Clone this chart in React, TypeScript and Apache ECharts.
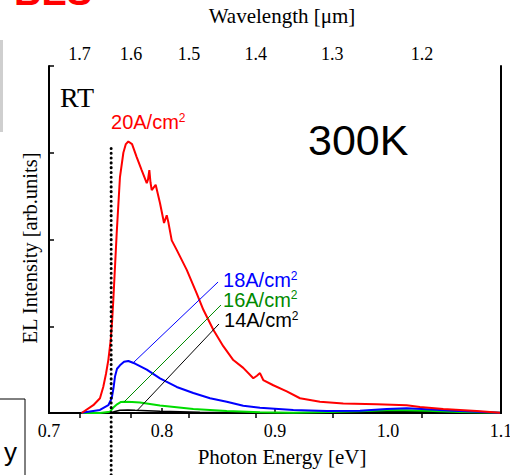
import { useEffect, useRef } from "react";
import * as echarts from "echarts";

// Photon energy (eV) / intensity (arb. units) pairs for each drive current
const spectrum20: number[][] = [
  [0.7289, 0], [0.7392, 0.09], [0.7451, 0.17], [0.748, 0.3], [0.7504, 0.45],
  [0.7525, 0.61], [0.7546, 0.84], [0.7558, 1.05], [0.7569, 1.3], [0.7599, 2.07],
  [0.7628, 2.72], [0.7658, 3.0], [0.768, 3.1], [0.7702, 3.13], [0.7735, 3.1],
  [0.7776, 2.95], [0.782, 2.8], [0.7865, 2.65], [0.7876, 2.69], [0.7888, 2.8],
  [0.7898, 2.66], [0.7909, 2.57], [0.7944, 2.63], [0.7982, 2.42], [0.8018, 2.19],
  [0.8042, 2.28], [0.8056, 2.2], [0.8086, 1.99], [0.813, 1.88], [0.8219, 1.65],
  [0.8307, 1.38], [0.8366, 1.19], [0.8454, 0.96], [0.8542, 0.77], [0.8631, 0.61],
  [0.8719, 0.52], [0.8808, 0.4], [0.884, 0.43], [0.8867, 0.46], [0.8896, 0.38],
  [0.8985, 0.32], [0.9104, 0.25], [0.9221, 0.17], [0.9398, 0.13], [0.9604, 0.11],
  [0.99, 0.1], [1.0165, 0.09], [1.0283, 0.07], [1.0489, 0.046], [1.0785, 0.023],
  [1.0991, 0.003],
];

const spectrum18: number[][] = [
  [0.7289, 0.003], [0.7451, 0.035], [0.7525, 0.09], [0.7555, 0.17], [0.7571, 0.29],
  [0.7584, 0.42], [0.7602, 0.51], [0.7628, 0.55], [0.7664, 0.59], [0.7702, 0.6],
  [0.7761, 0.57], [0.7865, 0.5], [0.7982, 0.4], [0.813, 0.3], [0.8277, 0.23],
  [0.8425, 0.17], [0.8573, 0.13], [0.8719, 0.084], [0.8867, 0.061], [0.9162, 0.035],
  [0.9458, 0.023], [0.9752, 0.027], [0.9988, 0.046], [1.0165, 0.054], [1.0342, 0.043],
  [1.0578, 0.027], [1.0991, 0.003],
];

const spectrum16: number[][] = [
  [0.7289, 0], [0.7451, 0], [0.754, 0.015], [0.7575, 0.07], [0.7602, 0.1],
  [0.7637, 0.127], [0.7673, 0.13], [0.7735, 0.127], [0.7805, 0.12], [0.7982, 0.086],
  [0.8277, 0.046], [0.8573, 0.023], [0.8867, 0.008], [0.9162, 0.003], [0.9487, 0.012],
  [0.9752, 0.02], [1.0047, 0.035], [1.0342, 0.027], [1.0637, 0.012], [1.0991, 0.003],
];

const spectrum14: number[][] = [
  [0.7289, 0], [0.754, 0], [0.7584, 0.017], [0.7628, 0.031], [0.7699, 0.035],
  [0.7761, 0.031], [0.7982, 0.02], [0.8336, 0.008], [0.8867, 0.002], [0.9487, 0.006],
  [1.0018, 0.017], [1.0372, 0.015], [1.0726, 0.006], [1.0991, 0],
];

const currents = ["20", "18", "16", "14"];

// Wavelength ticks on the top axis (μm), placed at E = hc / λ
const wavelengthTicks = [1.7, 1.6, 1.5, 1.4, 1.3, 1.2];
const HC_EV_UM = 1.236;

// Room-temperature band-edge marker (eV)
const edgeEnergy = 0.755;

const SERIF = "'Liberation Serif', 'Times New Roman', serif";
const SANS = "'Liberation Sans', Arial, sans-serif";

// Label anchors and leader lines, in data coordinates [eV, arb.units]
const labelLayout = [
  { color: "#ff0000", at: [0.7549, 3.354], from: null, to: null },
  { color: "#0000ff", at: [0.854, 1.533], from: [0.8496, 1.51], to: [0.7743, 0.576] },
  { color: "#008a00", at: [0.854, 1.303], from: [0.8522, 1.245], to: [0.7664, 0.127] },
  { color: "#000000", at: [0.8549, 1.072], from: [0.8504, 1.026], to: [0.7779, 0.027] },
];

export default function App() {
  const ref = useRef<HTMLDivElement>(null);

  useEffect(() => {
    if (!ref.current) return;
    const chart = echarts.init(ref.current, null, { renderer: "svg" });

    const axisLine = { show: true, lineStyle: { color: "#000", width: 2 } };
    const tick = { show: true, inside: true, length: 5, lineStyle: { color: "#000", width: 1.5 } };
    const topTickValues = wavelengthTicks.map((l) => HC_EV_UM / l);

    chart.setOption({
      animation: false,
      backgroundColor: "#ffffff",
      grid: { left: 49, right: 9, top: 66, bottom: 62, containLabel: false, outerBoundsMode: "none" },
      xAxis: [
        {
          type: "value",
          position: "bottom",
          min: 0.7,
          max: 1.1,
          interval: 0.1,
          axisLine,
          axisTick: tick,
          splitLine: { show: false },
          axisLabel: {
            margin: 9,
            color: "#000",
            fontFamily: SERIF,
            fontSize: 18,
            formatter: (v: number) => v.toFixed(1),
          },
          name: "Photon Energy [eV]",
          nameLocation: "middle",
          nameGap: 33,
          nameTextStyle: { color: "#000", fontFamily: SERIF, fontSize: 21, padding: [0, 0, 0, 14] },
        },
        {
          type: "value",
          position: "top",
          min: 0.7,
          max: 1.1,
          axisLine,
          axisTick: { ...tick, customValues: topTickValues },
          splitLine: { show: false },
          axisLabel: {
            margin: 3,
            color: "#000",
            fontFamily: SERIF,
            fontSize: 18,
            customValues: topTickValues,
            formatter: (v: number) => (HC_EV_UM / v).toFixed(1),
          },
          name: "Wavelength [μm]",
          nameLocation: "middle",
          nameGap: 40,
          nameTextStyle: { color: "#000", fontFamily: SERIF, fontSize: 21, padding: [0, 0, 0, 14] },
        },
      ],
      yAxis: [
        {
          type: "value",
          position: "left",
          min: 0,
          max: 4,
          interval: 1,
          axisLine,
          axisTick: tick,
          axisLabel: { show: false },
          splitLine: { show: false },
          name: "EL Intensity [arb.units]",
          nameLocation: "middle",
          nameGap: 9,
          nameTextStyle: { color: "#000", fontFamily: SERIF, fontSize: 20.5, padding: [0, 17, 0, 0] },
        },
        {
          type: "value",
          position: "right",
          min: 0,
          max: 4,
          axisLine,
          axisTick: { show: false },
          axisLabel: { show: false },
          splitLine: { show: false },
        },
      ],
      series: [
        { name: currents[3], data: spectrum14, color: "#000000", width: 1.5 },
        { name: currents[2], data: spectrum16, color: "#00dd00", width: 2 },
        { name: currents[1], data: spectrum18, color: "#0000ff", width: 2 },
        { name: currents[0], data: spectrum20, color: "#ff0000", width: 2 },
      ].map((s) => ({
        type: "line",
        name: s.name,
        data: s.data,
        showSymbol: false,
        symbol: "none",
        lineStyle: { color: s.color, width: s.width },
        itemStyle: { color: s.color },
      })),
    });

    const px = (p: number[]) => chart.convertToPixel({ seriesIndex: 0 }, p) as number[];

    const graphic: any[] = [];

    // Dotted band-edge marker, running past the frame to the page edge
    const edgeTop = px([edgeEnergy, 3.05]);
    graphic.push({
      type: "line",
      z: 50,
      shape: { x1: edgeTop[0], y1: edgeTop[1], x2: edgeTop[0], y2: 480 },
      style: { stroke: "#000", lineWidth: 3, lineDash: [0.1, 4.7], lineCap: "round" },
    });

    // Current-density labels with leader lines
    labelLayout.forEach((l, i) => {
      const at = px(l.at);
      graphic.push({
        type: "text",
        z: 60,
        x: at[0],
        y: at[1],
        style: {
          text: `{m|${currents[i]}A/cm}{s|2}`,
          verticalAlign: "middle",
          align: "left",
          fill: l.color,
          rich: {
            m: { fontFamily: SANS, fontSize: 20, fill: l.color, lineHeight: 21 },
            s: { fontFamily: SANS, fontSize: 12, fill: l.color, verticalAlign: "top", lineHeight: 12 },
          },
        },
      });
      if (l.from && l.to) {
        const a = px(l.from);
        const b = px(l.to);
        graphic.push({
          type: "line",
          z: 40,
          shape: { x1: a[0], y1: a[1], x2: b[0], y2: b[1] },
          style: { stroke: l.color, lineWidth: 1 },
        });
      }
    });

    const rt = px([0.7097, 3.637]);
    graphic.push({
      type: "text",
      z: 60,
      x: rt[0],
      y: rt[1],
      style: { text: "RT", fontFamily: SERIF, fontSize: 28, fill: "#000", verticalAlign: "middle" },
    });

    const temp = px([0.9292, 3.147]);
    graphic.push({
      type: "text",
      z: 60,
      x: temp[0],
      y: temp[1],
      style: { text: "300K", fontFamily: SANS, fontSize: 43, fill: "#000", verticalAlign: "middle" },
    });

    // Neighbouring slide elements cut off by the page edges
    graphic.push(
      {
        type: "text",
        x: 14,
        y: 11,
        style: { text: "BES", fontFamily: SANS, fontSize: 38, fontWeight: "bold", fill: "#ff0000", verticalAlign: "bottom" },
      },
      { type: "rect", shape: { x: 0, y: 40, width: 3, height: 92 }, style: { fill: "#cfcfcf" } },
      {
        type: "rect",
        shape: { x: -4, y: 399, width: 29, height: 90 },
        style: { fill: "none", stroke: "#000", lineWidth: 1 },
      },
      {
        type: "text",
        x: 4,
        y: 452,
        style: { text: "y", fontFamily: SANS, fontSize: 26, fill: "#000", verticalAlign: "middle" },
      }
    );

    chart.setOption({ graphic });

    return () => chart.dispose();
  }, []);

  return (
    <div
      ref={ref}
      style={{ position: "fixed", left: 0, top: 0, width: 510, height: 475, background: "#fff" }}
    />
  );
}
